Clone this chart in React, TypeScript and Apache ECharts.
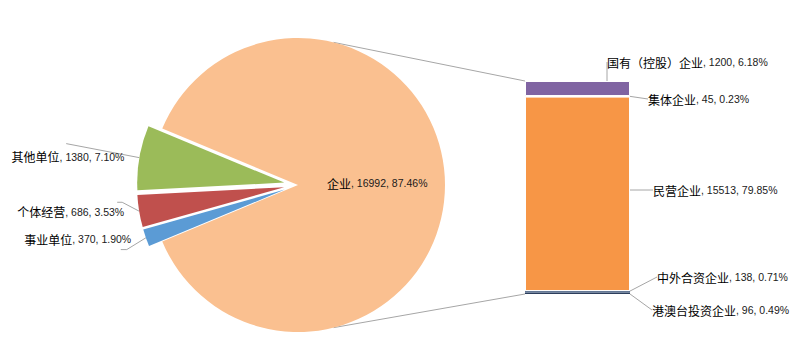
import React, { useEffect, useRef } from 'react';
import * as echarts from 'echarts';

// ---- data ----
const pieNames = ['其他单位', '个体经营', '事业单位', '企业'];
const pieValues = [1380, 686, 370, 16992];
const barNames = ['国有（控股）企业', '集体企业', '民营企业', '中外合资企业', '港澳台投资企业']; // top -> bottom
const barValues = [1200, 45, 15513, 138, 96];

// ---- styles / layout ----
const pieColors = ['#9BBB59', '#C0504D', '#5B9BD5', '#FAC090'];
const barColors = ['#8064A2', '#4BACC6', '#F79646', '#5A6F8E', '#2C3E5C'];
const barBorders = [1, 1, 1, 0, 0];
const PIE_C = [298, 185];
const PIE_R = 147;
const EXPLODE = 14;
const BAR = { left: 525, top: 81, width: 105, height: 213 };
const LINE_COLOR = '#A6A6A6';
// pie label anchors: [x, yCenter]; small slices right-aligned, main slice left-aligned
const pieLabelPos = [[137, 139], [127, 200], [131, 245], [327, 183]];
const pieLabelElbow = [[80, 146], [136, 200], [140, 245]];
const pieLabelEnd = [[80, 146], [131, 200], [134, 245]];
// bar label anchors: [xLeft, yCenter]
const barLabelPos = [[607, 62], [648, 99], [653, 190], [657, 277], [652, 310]];
const barLabelElbow = [[687, 71], [640, 98], [650, 189], [647, 278], [647, 309]];
const barLabelEnd = [[687, 71], [646, 98], [650, 189], [653, 278], [653, 309]];
const CONNECT_ANGLE = 76;

const rich = {
  n: { fontFamily: 'Noto Sans CJK SC', fontSize: 12, color: '#000000' },
  v: { fontFamily: 'Liberation Sans', fontSize: 10.5, color: '#1A1A1A' },
};

export default function App() {
  const ref = useRef<HTMLDivElement>(null);
  useEffect(() => {
    if (!ref.current) return;
    const chart = echarts.init(ref.current, undefined, { renderer: 'svg' });
    const total = pieValues.reduce((a, b) => a + b, 0);
    const smallSum = pieValues.slice(0, 3).reduce((a, b) => a + b, 0);
    const startAngle = 180 - (smallSum / total) * 180;
    const barTotal = barValues.reduce((a, b) => a + b, 0);
    const n = barNames.length;
    const pct = (v: number) => ((v / total) * 100).toFixed(2) + '%';

    const pieData = pieNames.map((name, i) => {
      const main = i === pieNames.length - 1;
      return {
        name,
        value: pieValues[i],
        selected: !main,
        itemStyle: { color: pieColors[i] },
        label: main ? { position: 'inside' } : { position: 'outside' },
        labelLine: { show: !main },
      };
    });

    const barSeries = [] as any[];
    for (let k = n - 1; k >= 0; k--) {
      barSeries.push({
        type: 'bar',
        name: barNames[k],
        stack: 'b',
        xAxisIndex: 0,
        yAxisIndex: 0,
        barWidth: '100%',
        data: [barValues[k]],
        itemStyle: { color: barColors[k], borderColor: '#FFFFFF', borderWidth: barBorders[k] },
        label: {
          show: true,
          position: 'right',
          formatter: () => `{n|${barNames[k]}}{v|, ${barValues[k]}, ${pct(barValues[k])}}`,
          rich,
        },
        labelLine: { show: true, lineStyle: { color: LINE_COLOR, width: 1 } },
        labelLayout: (p: any) => {
          const r = p.rect;
          const s = [r.x + r.width, r.y + r.height / 2];
          return {
            x: barLabelPos[k][0],
            y: barLabelPos[k][1],
            align: 'left',
            verticalAlign: 'middle',
            labelLinePoints: [s, barLabelElbow[k], barLabelEnd[k]],
          };
        },
      });
    }

    const a = (CONNECT_ANGLE * Math.PI) / 180;
    const px = PIE_C[0] + PIE_R * Math.cos(a);
    const pyT = PIE_C[1] - PIE_R * Math.sin(a);
    const pyB = PIE_C[1] + PIE_R * Math.sin(a);

    chart.setOption({
      animation: false,
      grid: { left: BAR.left, top: BAR.top, width: BAR.width, height: BAR.height },
      xAxis: { type: 'category', data: ['b'], show: false },
      yAxis: { type: 'value', min: 0, max: barTotal, show: false },
      graphic: [
        { type: 'line', shape: { x1: px, y1: pyT, x2: BAR.left, y2: BAR.top }, style: { stroke: LINE_COLOR, lineWidth: 1 }, z: 0 },
        { type: 'line', shape: { x1: px, y1: pyB, x2: BAR.left, y2: BAR.top + BAR.height }, style: { stroke: LINE_COLOR, lineWidth: 1 }, z: 0 },
      ],
      series: [
        {
          type: 'pie',
          center: PIE_C,
          radius: PIE_R,
          startAngle,
          clockwise: false,
          selectedMode: 'multiple',
          selectedOffset: EXPLODE,
          avoidLabelOverlap: false,
          emphasis: { disabled: true, scale: false },
          label: {
            show: true,
            formatter: (p: any) => `{n|${p.name}}{v|, ${p.value}, ${pct(p.value)}}`,
            rich,
          },
          labelLine: { show: true, length: 5, length2: 5, lineStyle: { color: LINE_COLOR, width: 1 } },
          labelLayout: (p: any) => {
            const i = p.dataIndex;
            const main = i === pieNames.length - 1;
            if (main) {
              return { x: pieLabelPos[i][0], y: pieLabelPos[i][1], align: 'left', verticalAlign: 'middle' };
            }
            const pts = p.labelLinePoints;
            const s = pts ? pts[0] : pieLabelElbow[i];
            return {
              x: pieLabelPos[i][0],
              y: pieLabelPos[i][1],
              align: 'right',
              verticalAlign: 'middle',
              labelLinePoints: [s, pieLabelElbow[i], pieLabelEnd[i]],
            };
          },
          data: pieData,
        },
        ...barSeries,
      ],
    });
    return () => chart.dispose();
  }, []);
  return (
    <div
      ref={ref}
      style={{ position: 'fixed', left: 0, top: 0, width: 808, height: 352, background: '#FFFFFF' }}
    />
  );
}
